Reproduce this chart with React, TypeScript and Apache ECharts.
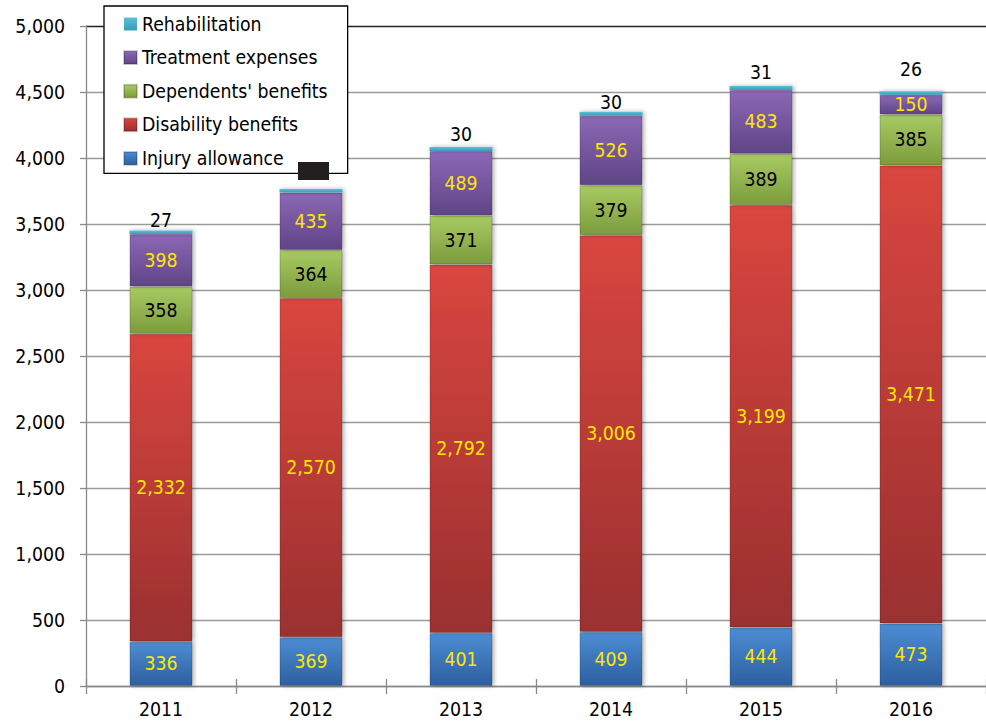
import React, { useEffect, useRef } from "react";
import * as echarts from "echarts";

// Yearly claims by benefit type
const years = ["2011", "2012", "2013", "2014", "2015", "2016"];
const injuryAllowance = [336, 369, 401, 409, 444, 473];
const disabilityBenefits = [2332, 2570, 2792, 3006, 3199, 3471];
const dependentsBenefits = [358, 364, 371, 379, 389, 385];
const treatmentExpenses = [398, 435, 489, 526, 483, 150];
const rehabilitation = [27, 28, 30, 30, 31, 26];

const yTicks = { min: 0, max: 5000, interval: 500 };

// extra lift of the small top labels, per year
const rehabLabelLift = [0, 8, 3, 0, 4, 12];

const FONT = "'DejaVu Sans Condensed', 'DejaVu Sans', sans-serif";
const FS = 19.3;

const grad = (top: string, bottom: string) =>
  new echarts.graphic.LinearGradient(0, 0, 0, 1, [
    { offset: 0, color: top },
    { offset: 1, color: bottom },
  ]);

const fmt = (v: number) => v.toLocaleString("en-US");

export default function App() {
  const ref = useRef<HTMLDivElement>(null);

  useEffect(() => {
    if (!ref.current) return;
    const chart = echarts.init(ref.current, null, { renderer: "svg" });

    const barStyle = (top: string, bottom: string) => ({
      color: grad(top, bottom),
      borderColor: "rgba(0,0,0,0.18)",
      borderWidth: 1,
      shadowColor: "rgba(0,0,0,0.3)",
      shadowBlur: 4,
      shadowOffsetX: 2,
    });

    const insideLabel = (color: string) => ({
      show: true,
      position: "inside" as const,
      color,
      fontFamily: FONT,
      fontSize: FS,
      formatter: (p: any) => fmt(p.value),
    });

    const bar = {
      type: "bar" as const,
      stack: "total",
      barWidth: 63,
      xAxisIndex: 0,
    };

    const gridColors = Array.from({ length: 10 }, () => "#9a9a9a").concat(["#222"]);

    chart.setOption({
      animation: false,
      backgroundColor: "#fff",
      grid: { left: 86, right: 0, top: 26, bottom: 38, containLabel: false },
      legend: {
        orient: "vertical",
        left: 104,
        top: 6,
        padding: [8, 20, 5, 19],
        itemGap: 13.6,
        itemWidth: 13,
        itemHeight: 13,
        icon: "rect",
        backgroundColor: "#fff",
        borderColor: "#000",
        borderWidth: 1.3,
        borderRadius: 0,
        textStyle: { fontFamily: FONT, fontSize: FS, color: "#000", lineHeight: 20 },
        data: [
          "Rehabilitation",
          "Treatment expenses",
          "Dependents' benefits",
          "Disability benefits",
          "Injury allowance",
        ],
      },
      xAxis: [
        {
          type: "category",
          data: years,
          position: "bottom",
          axisLine: { lineStyle: { color: "#888", width: 1.3 } },
          axisTick: { show: true, length: 8, lineStyle: { color: "#888", width: 1.3 } },
          axisLabel: { fontFamily: FONT, fontSize: FS, color: "#000", margin: 14 },
        },
        {
          // upper half of the category ticks, crossing the baseline
          type: "category",
          data: years,
          position: "bottom",
          offset: 0,
          axisLine: { show: false },
          axisTick: { show: true, inside: true, length: 7, lineStyle: { color: "#888", width: 1.3 } },
          axisLabel: { show: false },
          splitLine: { show: false },
        },
      ],
      yAxis: {
        type: "value",
        min: yTicks.min,
        max: yTicks.max,
        interval: yTicks.interval,
        axisLine: { show: true, lineStyle: { color: "#888", width: 1.3 } },
        axisTick: { show: true, length: 6, lineStyle: { color: "#888", width: 1.3 } },
        axisLabel: {
          fontFamily: FONT,
          fontSize: FS,
          color: "#000",
          margin: 21,
          formatter: (v: number) => fmt(v),
        },
        splitLine: { lineStyle: { color: gridColors, width: 1.4 } },
      },
      series: [
        {
          ...bar,
          name: "Injury allowance",
          data: injuryAllowance,
          itemStyle: barStyle("#4d8dd4", "#2c5f9f"),
          label: insideLabel("#ffe600"),
        },
        {
          ...bar,
          name: "Disability benefits",
          data: disabilityBenefits,
          itemStyle: barStyle("#d9463f", "#9a3030"),
          label: insideLabel("#ffe600"),
        },
        {
          ...bar,
          name: "Dependents' benefits",
          data: dependentsBenefits,
          itemStyle: barStyle("#a8ca62", "#7c9c3d"),
          label: insideLabel("#000"),
        },
        {
          ...bar,
          name: "Treatment expenses",
          data: treatmentExpenses,
          itemStyle: barStyle("#8c68b6", "#5f4586"),
          label: insideLabel("#ffe600"),
        },
        {
          ...bar,
          name: "Rehabilitation",
          data: rehabilitation.map((v, i) => ({
            value: v,
            label: { offset: [0, -rehabLabelLift[i]] },
          })),
          itemStyle: { ...barStyle("#5cc0dc", "#3b9ab4"), borderWidth: 0 },
          label: {
            show: true,
            position: "top",
            distance: 0,
            color: "#000",
            fontFamily: FONT,
            fontSize: FS,
            formatter: (p: any) => fmt(p.value),
          },
        },
      ],
      graphic: [
        {
          type: "rect",
          z: 100,
          left: 298,
          top: 162,
          shape: { width: 31, height: 18 },
          style: { fill: "#231f20" },
        },
      ],
    });

    return () => chart.dispose();
  }, []);

  return (
    <div
      ref={ref}
      style={{ position: "fixed", left: 0, top: 0, width: 986, height: 724 }}
    />
  );
}
